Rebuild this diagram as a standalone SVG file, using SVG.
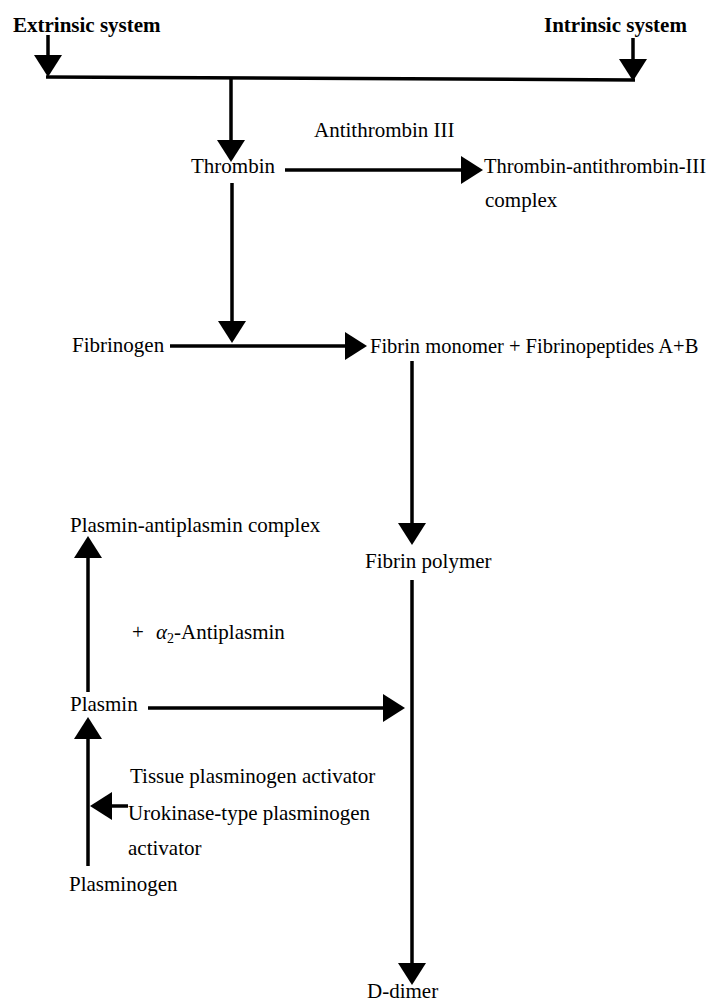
<svg xmlns="http://www.w3.org/2000/svg" width="708" height="1001" viewBox="0 0 708 1001">
<style>
text{font-family:"Liberation Serif","Times New Roman",serif;font-size:21px;fill:#000}
.b{font-weight:bold}
.s{font-size:20.5px}
.c{stroke:#000;stroke-width:3.5;fill:none}
.a{stroke:#000;stroke-width:3.5;fill:none;marker-end:url(#ah)}
</style>
<defs>
<marker id="ah" markerUnits="userSpaceOnUse" markerWidth="22" markerHeight="28" refX="14" refY="14" orient="auto" viewBox="0 0 22 28">
<path d="M0,0 L22,14 L0,28 Z" fill="#000"/>
</marker>
</defs>
<rect width="708" height="1001" fill="#fff"/>
<g id="connectors">
<line class="a" x1="48" y1="35" x2="48" y2="69"/>
<line class="a" x1="633" y1="38" x2="633" y2="73"/>
<line class="c" x1="46" y1="77" x2="635" y2="80"/>
<line class="a" x1="231" y1="78" x2="231" y2="154"/>
<line class="a" x1="285" y1="170" x2="475" y2="170"/>
<line class="a" x1="232" y1="183" x2="232" y2="335"/>
<line class="a" x1="170" y1="346" x2="359" y2="346"/>
<line class="a" x1="412" y1="361" x2="412" y2="537"/>
<line class="a" x1="412" y1="580" x2="412" y2="977"/>
<line class="a" x1="88" y1="692" x2="88" y2="544"/>
<line class="a" x1="148" y1="708" x2="397" y2="708"/>
<line class="a" x1="88" y1="866" x2="88" y2="725"/>
<line class="a" x1="128" y1="806" x2="98" y2="806"/>
</g>
<g id="extrinsic"><text class="b" x="13" y="32">Extrinsic system</text></g>
<g id="intrinsic"><text class="b" x="544" y="32">Intrinsic system</text></g>
<g id="thrombin"><text x="191" y="173">Thrombin</text></g>
<g id="antithrombin"><text x="314" y="137">Antithrombin III</text></g>
<g id="tat-complex"><text class="s" x="484" y="173">Thrombin-antithrombin-III</text><text x="485" y="207">complex</text></g>
<g id="fibrinogen"><text x="72" y="352">Fibrinogen</text></g>
<g id="fibrin-monomer"><text class="s" x="370" y="353">Fibrin monomer + Fibrinopeptides A+B</text></g>
<g id="fibrin-polymer"><text x="365" y="568">Fibrin polymer</text></g>
<g id="d-dimer"><text x="367" y="998">D-dimer</text></g>
<g id="pap-complex"><text x="70" y="532">Plasmin-antiplasmin complex</text></g>
<g id="antiplasmin"><text x="132" y="639">+ <tspan x="156" font-style="italic">α</tspan><tspan font-size="14" dy="4">2</tspan><tspan dy="-4">-Antiplasmin</tspan></text></g>
<g id="plasmin"><text x="70" y="711">Plasmin</text></g>
<g id="activators"><text x="130" y="783">Tissue plasminogen activator</text><text x="128" y="820">Urokinase-type plasminogen</text><text x="128" y="855">activator</text></g>
<g id="plasminogen"><text x="69" y="891">Plasminogen</text></g>
</svg>
